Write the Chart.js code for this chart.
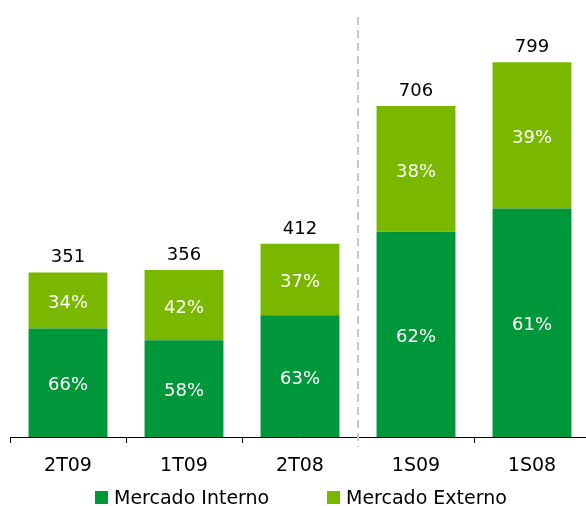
<!DOCTYPE html>
<html>
<head>
<meta charset="utf-8">
<script src="https://cdn.jsdelivr.net/npm/chart.js@4/dist/chart.umd.min.js"></script>
<style>
    html, body { margin: 0; padding: 0; background: #fff; }
    #wrap { position: relative; width: 586px; height: 506px; overflow: hidden; }
    .legend-item {
        position: absolute;
        top: 486px;
        display: flex;
        align-items: center;
        font-family: 'DejaVu Sans', Verdana, sans-serif;
        font-size: 19px;
        color: #000;
        white-space: nowrap;
    }
    .legend-item span.box { width: 13px; height: 13px; margin-right: 6px; display: inline-block; }
</style>
</head>
<body>
<div id="wrap">
    <!-- canvas a bit wider than the frame: the last category runs past the right edge -->
    <canvas id="salesChart" width="590" height="506"></canvas>
    <div class="legend-item" style="left:95px"><span class="box" style="background:#00963A"></span>Mercado Interno</div>
    <div class="legend-item" style="left:327px"><span class="box" style="background:#7AB800"></span>Mercado Externo</div>
</div>
<script>
const categories = ['2T09', '1T09', '2T08', '1S09', '1S08'];
const totals = [351, 356, 412, 706, 799];
const internoPct = [66, 58, 63, 62, 61];
const externoPct = [34, 42, 37, 38, 39];

const colors = { interno: '#00963A', externo: '#7AB800' };
const fontFamily = "'DejaVu Sans', Verdana, sans-serif";

// split each total into its two market shares
const internoValues = totals.map((t, i) => t * internoPct[i] / 100);
const externoValues = totals.map((t, i) => t * externoPct[i] / 100);

// percentages inside the segments, totals on top of each stack
const barLabels = {
    id: 'barLabels',
    afterDatasetsDraw(chart) {
        const ctx = chart.ctx;
        ctx.save();
        ctx.font = `18px ${fontFamily}`;
        ctx.textAlign = 'center';
        const pcts = [internoPct, externoPct];
        chart.data.datasets.forEach((ds, d) => {
            chart.getDatasetMeta(d).data.forEach((bar, i) => {
                ctx.fillStyle = '#fff';
                ctx.textBaseline = 'middle';
                ctx.fillText(pcts[d][i] + '%', bar.x, (bar.y + bar.base) / 2 + 3);
                if (d === chart.data.datasets.length - 1) {
                    ctx.fillStyle = '#000';
                    ctx.textBaseline = 'alphabetic';
                    ctx.fillText(String(totals[i]), bar.x, bar.y - 10);
                }
            });
        });
        ctx.restore();
    }
};

// dashed separator between quarters and semesters
const separator = {
    id: 'separator',
    beforeDatasetsDraw(chart) {
        const x = chart.scales.x.getPixelForValue(2.5);
        const ctx = chart.ctx;
        ctx.save();
        ctx.strokeStyle = '#C8C8C8';
        ctx.lineWidth = 2;
        ctx.setLineDash([8, 5]);
        ctx.beginPath();
        ctx.moveTo(x, chart.chartArea.top + 2);
        ctx.lineTo(x, chart.chartArea.bottom + 10);
        ctx.stroke();
        ctx.restore();
    }
};

new Chart(document.getElementById('salesChart').getContext('2d'), {
    type: 'bar',
    data: {
        labels: categories,
        datasets: [
            { label: 'Mercado Interno', data: internoValues, backgroundColor: colors.interno },
            { label: 'Mercado Externo', data: externoValues, backgroundColor: colors.externo }
        ]
    },
    options: {
        responsive: false,
        animation: false,
        categoryPercentage: 1,
        barPercentage: 0.68,
        layout: { padding: { top: 15, left: 10, right: 0, bottom: 0 } },
        plugins: {
            legend: { display: false },
            tooltip: { enabled: false }
        },
        scales: {
            x: {
                stacked: true,
                afterFit: scale => { scale.height = 69; },
                border: { display: true, color: '#000', width: 1 },
                grid: {
                    offset: true,
                    drawOnChartArea: false,
                    tickLength: 6,
                    color: c => c.index === 3 ? 'rgba(0,0,0,0)' : '#000'
                },
                ticks: { color: '#000', padding: 12, font: { family: fontFamily, size: 19 } }
            },
            y: {
                stacked: true,
                display: false,
                min: 0,
                max: 900
            }
        }
    },
    plugins: [separator, barLabels]
});
</script>
</body>
</html>
